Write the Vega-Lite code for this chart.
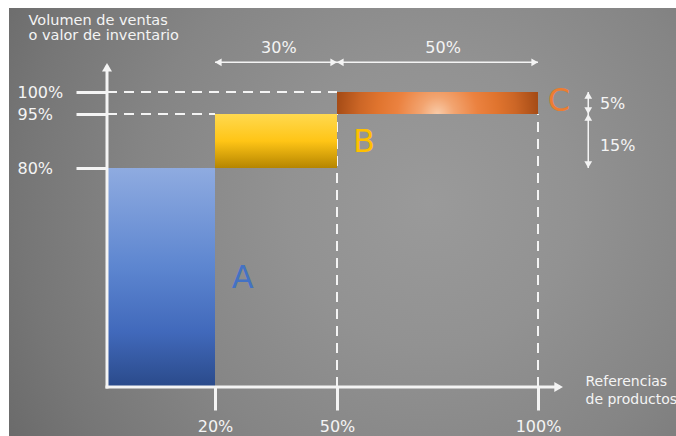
{
  "$schema": "https://vega.github.io/schema/vega-lite/v6.json",
  "width": 667,
  "height": 428,
  "autosize": {"type": "none"},
  "padding": {"left": 9, "top": 8, "right": 0, "bottom": 0},
  "background": "#ffffff",
  "view": {
    "stroke": null,
    "fill": {
      "gradient": "radial",
      "x1": 0.631, "y1": 0.47, "r1": 0,
      "x2": 0.631, "y2": 0.47, "r2": 0.72,
      "stops": [
        {"offset": 0, "color": "#9a9a9a"},
        {"offset": 0.3, "color": "#929292"},
        {"offset": 0.6, "color": "#858585"},
        {"offset": 0.85, "color": "#767676"},
        {"offset": 1, "color": "#6b6b6b"}
      ]
    }
  },
  "config": {"font": "DejaVu Sans"},
  "datasets": {
    "bars": [
      {"cls": "A", "x": 0, "x2": 20, "y": 0, "y2": 80},
      {"cls": "B", "x": 20, "x2": 50, "y": 80, "y2": 95},
      {"cls": "C", "x": 50, "x2": 100, "y": 95, "y2": 100}
    ],
    "dashes": [
      {"x": 0, "x2": 50, "y": 100, "y2": 100},
      {"x": 0, "x2": 20, "y": 95, "y2": 95},
      {"x": 50, "x2": 50, "y": 0, "y2": 95},
      {"x": 100, "x2": 100, "y": 0, "y2": 95}
    ],
    "axislines": [
      {"x": 0, "x2": 0, "y": 0, "y2": 105.6},
      {"x": 0, "x2": 105.1, "y": 0, "y2": 0}
    ],
    "axisheads": [
      {"x": 0, "y": 106.6, "dir": "up"},
      {"x": 106.2, "y": 0, "dir": "right"}
    ],
    "dims": [
      {"x": 20, "x2": 50, "y": 106.75, "y2": 106.75},
      {"x": 50, "x2": 100, "y": 106.75, "y2": 106.75},
      {"x": 112.5, "x2": 112.5, "y": 100, "y2": 95},
      {"x": 112.5, "x2": 112.5, "y": 95, "y2": 80}
    ],
    "dimheads": [
      {"x": 112.5, "y": 100, "dir": "up"},
      {"x": 112.5, "y": 95, "dir": "up"},
      {"x": 112.5, "y": 95, "dir": "down"},
      {"x": 112.5, "y": 80, "dir": "down"},
      {"x": 20, "y": 106.75, "dir": "left"},
      {"x": 50, "y": 106.75, "dir": "left"},
      {"x": 50, "y": 106.75, "dir": "right"},
      {"x": 100, "y": 106.75, "dir": "right"}
    ],
    "dimlabels": [
      {"text": "30%", "x": 35.7, "y": 110, "pos": "top"},
      {"text": "50%", "x": 76.4, "y": 110, "pos": "top"},
      {"text": "5%", "x": 115.4, "y": 97.2, "pos": "right"},
      {"text": "15%", "x": 115.4, "y": 86.2, "pos": "right"}
    ],
    "letters": [
      {"cls": "A", "x": 26.8, "y": 40},
      {"cls": "B", "x": 56.7, "y": 87.3},
      {"cls": "C", "x": 105.2, "y": 97.95}
    ]
  },
  "encoding": {
    "x": {
      "field": "x", "type": "quantitative",
      "scale": {"domain": [0, 20, 50, 100], "range": [98, 206, 328, 529], "zero": false, "nice": false},
      "axis": {
        "orient": "bottom", "offset": -49, "values": [20, 50, 100],
        "labelExpr": "datum.value + '%'",
        "domain": false, "grid": false, "ticks": true,
        "tickSize": 23, "tickWidth": 3, "tickColor": "#f4f4f4",
        "labelColor": "#f4f4f4", "labelFont": "DejaVu Sans", "labelFontSize": 16,
        "labelPadding": 16.5, "labelBaseline": "middle", "labelFlush": false, "labelOverlap": false,
        "title": ["Referencias", "de productos"],
        "titleX": 576, "titleY": -2, "titleAlign": "left", "titleAnchor": "start",
        "titleBaseline": "alphabetic", "titleFont": "DejaVu Sans", "titleFontSize": 14,
        "titleFontWeight": "normal", "titleColor": "#f4f4f4", "titleLineHeight": 18
      }
    },
    "y": {
      "field": "y", "type": "quantitative",
      "scale": {"domain": [0, 80, 95, 100], "range": [379, 160, 106, 84], "zero": false, "nice": false},
      "axis": {
        "orient": "left", "offset": -98, "values": [80, 95, 100],
        "labelExpr": "datum.value + '%'",
        "domain": false, "grid": false, "ticks": true,
        "tickSize": 31, "tickWidth": 3, "tickColor": "#f4f4f4",
        "labelColor": "#f4f4f4", "labelFont": "DejaVu Sans", "labelFontSize": 16,
        "labelPadding": 59, "labelAlign": "left", "labelBaseline": "middle",
        "labelFlush": false, "labelOverlap": false,
        "title": ["Volumen de ventas", "o valor de inventario"],
        "titleX": -79, "titleY": 16, "titleAngle": 0, "titleAlign": "left",
        "titleBaseline": "alphabetic", "titleFont": "DejaVu Sans", "titleFontSize": 14.5,
        "titleFontWeight": "normal", "titleColor": "#f4f4f4", "titleLineHeight": 15
      }
    }
  },
  "layer": [
    {
      "data": {"name": "dashes"},
      "mark": {"type": "rule", "color": "#f4f4f4", "strokeWidth": 2, "strokeDash": [10, 7]},
      "encoding": {"x2": {"field": "x2"}, "y2": {"field": "y2"}}
    },
    {
      "data": {"name": "bars"},
      "transform": [{"filter": "datum.cls === 'A'"}],
      "mark": {
        "type": "rect",
        "color": {
          "gradient": "linear", "x1": 0, "y1": 0, "x2": 0, "y2": 1,
          "stops": [
            {"offset": 0, "color": "#8fabe0"},
            {"offset": 0.45, "color": "#5d86d0"},
            {"offset": 0.75, "color": "#4169bb"},
            {"offset": 1, "color": "#2a4a8a"}
          ]
        }
      },
      "encoding": {"x2": {"field": "x2"}, "y2": {"field": "y2"}}
    },
    {
      "data": {"name": "bars"},
      "transform": [{"filter": "datum.cls === 'B'"}],
      "mark": {
        "type": "rect",
        "color": {
          "gradient": "linear", "x1": 0, "y1": 0, "x2": 0, "y2": 1,
          "stops": [
            {"offset": 0, "color": "#ffd94f"},
            {"offset": 0.5, "color": "#ffc516"},
            {"offset": 1, "color": "#b58500"}
          ]
        }
      },
      "encoding": {"x2": {"field": "x2"}, "y2": {"field": "y2"}}
    },
    {
      "data": {"name": "bars"},
      "transform": [{"filter": "datum.cls === 'C'"}],
      "mark": {
        "type": "rect",
        "color": {
          "gradient": "radial", "x1": 0.5, "y1": 0.555, "r1": 0,
          "x2": 0.5, "y2": 0.555, "r2": 0.5,
          "stops": [
            {"offset": 0, "color": "#f9cba8"},
            {"offset": 0.17, "color": "#f2a470"},
            {"offset": 0.4, "color": "#eb8240"},
            {"offset": 0.6, "color": "#e0742e"},
            {"offset": 0.78, "color": "#cc6626"},
            {"offset": 1, "color": "#a64c16"}
          ]
        }
      },
      "encoding": {"x2": {"field": "x2"}, "y2": {"field": "y2"}}
    },
    {
      "data": {"name": "axislines"},
      "mark": {"type": "rule", "color": "#f4f4f4", "strokeWidth": 3, "strokeCap": "square"},
      "encoding": {"x2": {"field": "x2"}, "y2": {"field": "y2"}}
    },
    {
      "data": {"name": "axisheads"},
      "transform": [{"filter": "datum.dir === 'up'"}],
      "mark": {"type": "point", "shape": "triangle-up", "filled": true, "color": "#f4f4f4", "opacity": 1, "size": 100, "yOffset": 4.3}
    },
    {
      "data": {"name": "axisheads"},
      "transform": [{"filter": "datum.dir === 'right'"}],
      "mark": {"type": "point", "shape": "triangle-right", "filled": true, "color": "#f4f4f4", "opacity": 1, "size": 100, "xOffset": -4.3}
    },
    {
      "data": {"name": "dims"},
      "mark": {"type": "rule", "color": "#f4f4f4", "strokeWidth": 1.5},
      "encoding": {"x2": {"field": "x2"}, "y2": {"field": "y2"}}
    },
    {
      "data": {"name": "dimheads"},
      "transform": [{"filter": "datum.dir === 'up'"}],
      "mark": {"type": "point", "shape": "triangle-up", "filled": true, "color": "#f4f4f4", "opacity": 1, "size": 60, "yOffset": 3.3}
    },
    {
      "data": {"name": "dimheads"},
      "transform": [{"filter": "datum.dir === 'down'"}],
      "mark": {"type": "point", "shape": "triangle-down", "filled": true, "color": "#f4f4f4", "opacity": 1, "size": 60, "yOffset": -3.3}
    },
    {
      "data": {"name": "dimheads"},
      "transform": [{"filter": "datum.dir === 'left'"}],
      "mark": {"type": "point", "shape": "triangle-left", "filled": true, "color": "#f4f4f4", "opacity": 1, "size": 60, "xOffset": 3.3}
    },
    {
      "data": {"name": "dimheads"},
      "transform": [{"filter": "datum.dir === 'right'"}],
      "mark": {"type": "point", "shape": "triangle-right", "filled": true, "color": "#f4f4f4", "opacity": 1, "size": 60, "xOffset": -3.3}
    },
    {
      "data": {"name": "dimlabels"},
      "transform": [{"filter": "datum.pos === 'top'"}],
      "mark": {"type": "text", "color": "#f4f4f4", "font": "DejaVu Sans", "fontSize": 16, "align": "center", "baseline": "middle"},
      "encoding": {"text": {"field": "text"}}
    },
    {
      "data": {"name": "dimlabels"},
      "transform": [{"filter": "datum.pos === 'right'"}],
      "mark": {"type": "text", "color": "#f4f4f4", "font": "DejaVu Sans", "fontSize": 16, "align": "left", "baseline": "middle"},
      "encoding": {"text": {"field": "text"}}
    },
    {
      "data": {"name": "letters"},
      "mark": {"type": "text", "font": "DejaVu Sans", "fontSize": 32, "fontWeight": 500, "align": "center", "baseline": "middle"},
      "encoding": {
        "text": {"field": "cls"},
        "color": {
          "field": "cls", "type": "nominal",
          "scale": {"domain": ["A", "B", "C"], "range": ["#4472c4", "#ffc000", "#ed7d31"]},
          "legend": null
        }
      }
    }
  ]
}
